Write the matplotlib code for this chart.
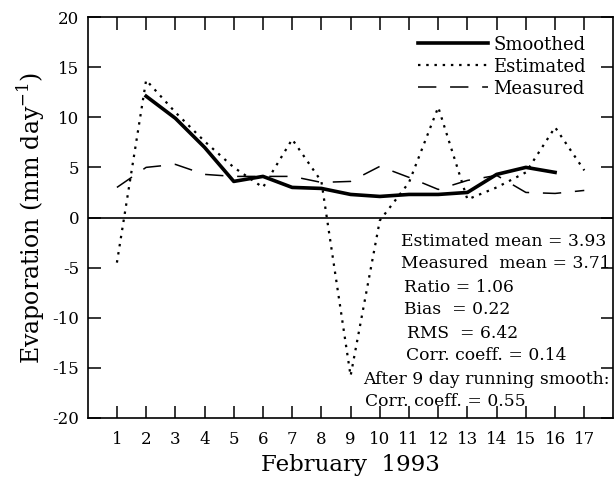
import matplotlib
matplotlib.use("Agg")
import matplotlib.pyplot as plt
import numpy as np

# February 1993 daily evaporation (mm/day)
days = np.arange(1, 18)
estimated = [-4.5, 13.7, 10.5, 7.6, 5.0, 3.0, 7.8, 3.6, -15.8, -0.3,
             3.5, 11.0, 1.8, 3.0, 4.5, 9.0, 4.7]
measured = [3.0, 5.0, 5.3, 4.3, 4.1, 4.1, 4.1, 3.5, 3.6, 5.1,
            4.0, 2.8, 3.7, 4.2, 2.5, 2.4, 2.7]
smooth_days = np.arange(2, 17)
smoothed = [12.1, 9.9, 7.0, 3.6, 4.1, 3.0, 2.9, 2.3, 2.1, 2.3,
            2.3, 2.5, 4.3, 5.0, 4.5]

stats_lines = [
    ("Estimated mean = 3.93", 401, 241),
    ("Measured  mean = 3.71", 401, 264),
    ("Ratio = 1.06", 404, 287),
    ("Bias  = 0.22", 404, 310),
    ("RMS  = 6.42", 407, 333),
    ("Corr. coeff. = 0.14", 406, 356),
    ("After 9 day running smooth:", 363, 379),
    ("Corr. coeff. = 0.55", 365, 402),
]

plt.rcParams['font.family'] = ['DejaVu Serif']
plt.rcParams['axes.unicode_minus'] = False

W, H = 615, 482
fig = plt.figure(figsize=(W / 100, H / 100), dpi=100)
ax = fig.add_axes([87.7 / W, 1 - 418 / H, (613.5 - 87.7) / W, (418 - 17) / H])

ax.plot(smooth_days, smoothed, color='black', lw=2.6, label='Smoothed',
        solid_joinstyle='round')
ax.plot(days, estimated, color='black', lw=1.6, ls=(0, (1.1, 2.6)),
        label='Estimated')
ax.plot(days, measured, color='black', lw=1.1, ls=(0, (12, 9)),
        label='Measured')
ax.axhline(0, color='black', lw=1.2)

ax.set_xlim(0, 18)
ax.set_ylim(-20, 20)
ax.set_xticks(days)
ax.set_yticks(np.arange(-20, 21, 5))
ax.tick_params(direction='in', length=9, width=1.1, top=True, right=True,
               labelsize=12, pad=9)
ax.tick_params(axis='y', pad=6)
for s in ax.spines.values():
    s.set_linewidth(1.2)

ax.set_xlabel('February  1993', fontsize=16.5, labelpad=5)
ax.set_ylabel('Evaporation (mm day$^{\\mathregular{-1}}$)', fontsize=17,
              labelpad=3)

leg = ax.legend(loc='upper right', bbox_to_anchor=(0.972, 0.985), frameon=False,
                fontsize=13, handlelength=3.9, handletextpad=0.3,
                labelspacing=0.22, borderpad=0.2)

for txt, px, py in stats_lines:
    fig.text(px / W, 1 - py / H, txt, fontsize=12.3, ha='left', va='center')

fig.savefig('out.png', dpi=100)
